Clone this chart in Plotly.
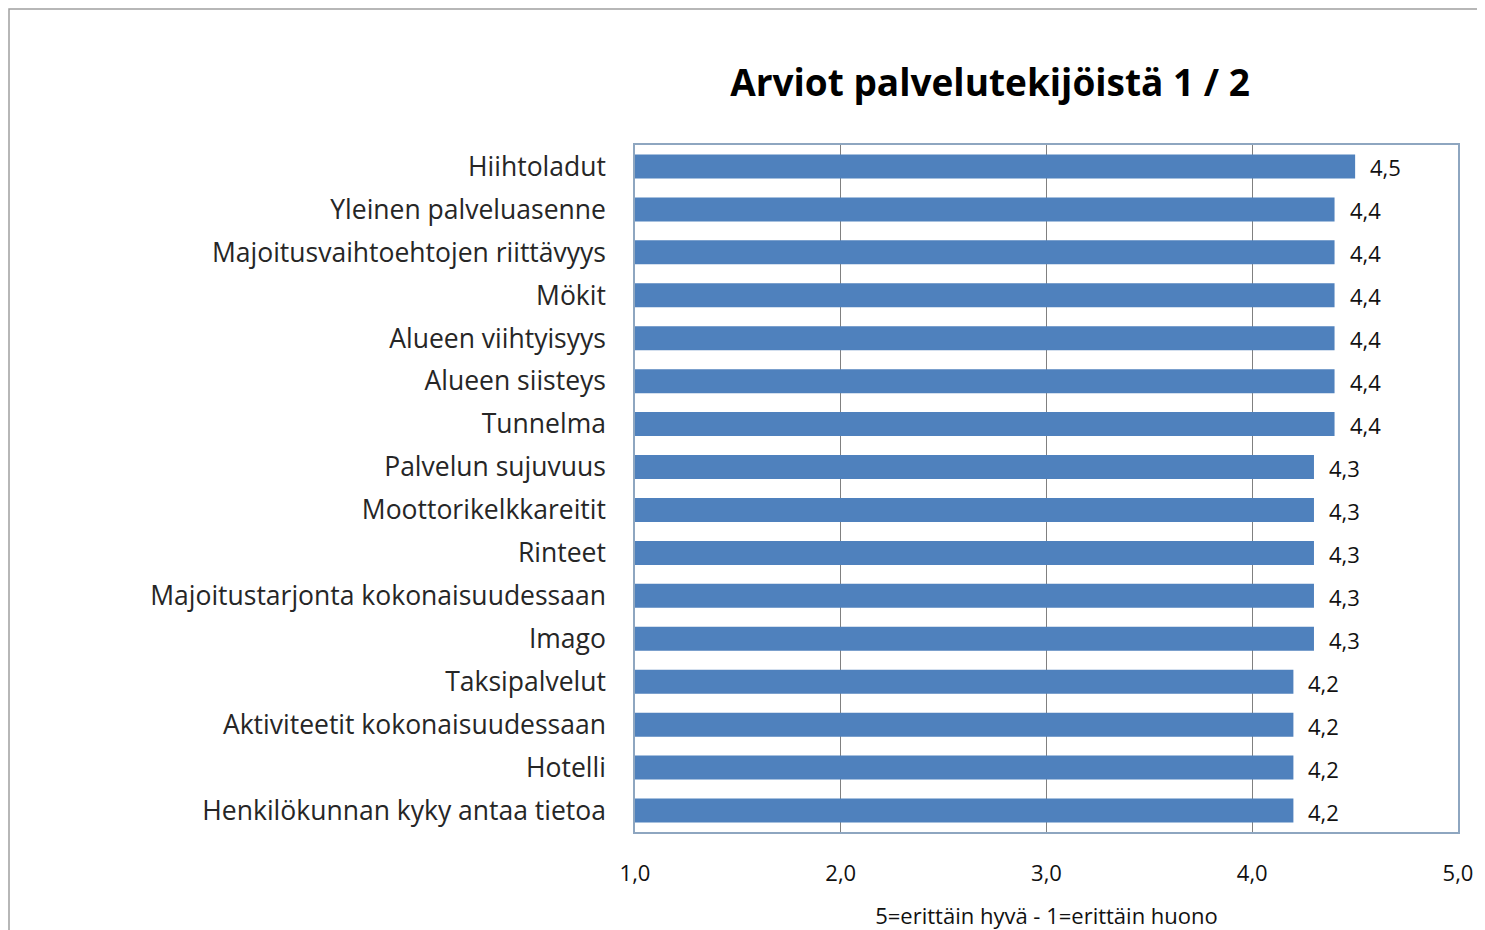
import plotly.graph_objects as go

categories = [
    "Hiihtoladut",
    "Yleinen palveluasenne",
    "Majoitusvaihtoehtojen riittävyys",
    "Mökit",
    "Alueen viihtyisyys",
    "Alueen siisteys",
    "Tunnelma",
    "Palvelun sujuvuus",
    "Moottorikelkkareitit",
    "Rinteet",
    "Majoitustarjonta kokonaisuudessaan",
    "Imago",
    "Taksipalvelut",
    "Aktiviteetit kokonaisuudessaan",
    "Hotelli",
    "Henkilökunnan kyky antaa tietoa",
]
values = [4.5, 4.4, 4.4, 4.4, 4.4, 4.4, 4.4, 4.3, 4.3, 4.3, 4.3, 4.3, 4.2, 4.2, 4.2, 4.2]
x_ticks = [1.0, 2.0, 3.0, 4.0, 5.0]

title_text = "Arviot palvelutekijöistä 1 / 2"
x_title = "5=erittäin hyvä - 1=erittäin huono"

BAR = "#4F81BD"
FONT = "Open Sans"

W, H = 1477, 922
L, R, T, B = 627, 27, 137, 98

fig = go.Figure()
fig.add_trace(go.Bar(
    y=categories,
    x=[v - 1.0 for v in values],
    base=1.0,
    orientation="h",
    marker=dict(color=BAR, line=dict(width=0)),
    hoverinfo="skip",
))

for c, v in zip(categories, values):
    fig.add_annotation(
        x=v, y=c, xref="x", yref="y",
        text=f"{v:.1f}".replace(".", ","),
        showarrow=False, xanchor="left", xshift=13, yshift=-1,
        font=dict(family=FONT, size=22, color="#111111"),
    )

fig.update_layout(
    width=W, height=H,
    margin=dict(l=L, r=R, t=T, b=B, autoexpand=False),
    paper_bgcolor="white",
    plot_bgcolor="white",
    separators=",.",
    showlegend=False,
    bargap=0.44,
    title=dict(
        text=f"<b>{title_text}</b>",
        x=982 / W, xanchor="center",
        y=1 - 75 / H, yanchor="middle",
        font=dict(family=FONT, size=37, color="#000000"),
    ),
    xaxis=dict(
        range=[1.0, 5.0],
        tickvals=x_ticks,
        tickformat=".1f",
        automargin=False,
        showgrid=True,
        gridcolor="#808080",
        gridwidth=1,
        zeroline=False,
        showline=True,
        linecolor="#8EA6C0",
        linewidth=1.5,
        mirror=True,
        ticks="",
        ticklabelstandoff=21,
        tickfont=dict(family=FONT, size=22, color="#111111"),
        title=dict(
            text=x_title,
            font=dict(family=FONT, size=22, color="#111111"),
            standoff=22,
        ),
    ),
    yaxis=dict(
        categoryorder="array",
        categoryarray=categories,
        autorange="reversed",
        automargin=False,
        showgrid=False,
        showline=True,
        linecolor="#8EA6C0",
        linewidth=1.5,
        mirror=True,
        ticks="",
        ticklabelstandoff=22,
        tickfont=dict(family=FONT, size=26.5, color="#262626"),
    ),
)

pw = W - L - R
ph = H - T - B
fig.add_shape(
    type="rect", xref="paper", yref="paper",
    x0=(1 - L) / pw, x1=2.0,
    y0=-2.0, y1=1 + (T - 1) / ph,
    line=dict(color="#A0A0A0", width=1.5),
    fillcolor="rgba(0,0,0,0)",
    layer="below",
)

fig.write_html("out.html")
